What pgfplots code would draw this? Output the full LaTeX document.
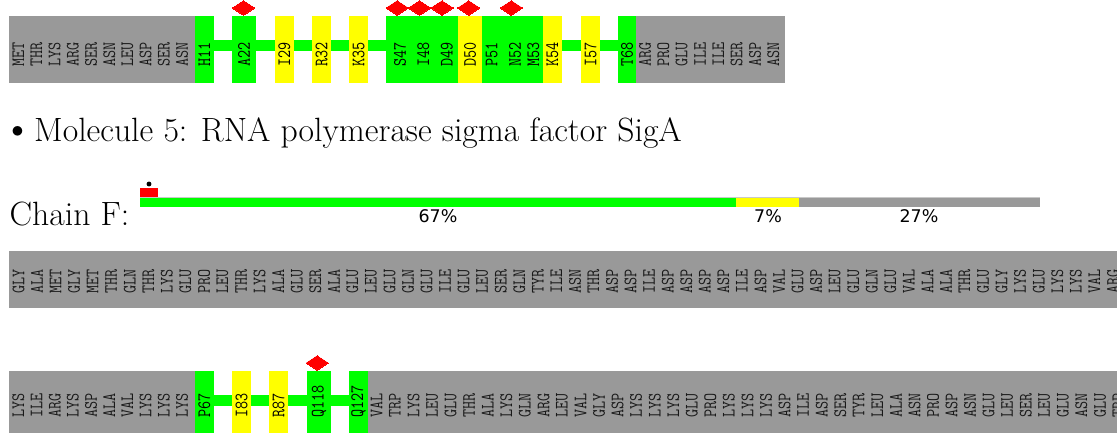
\documentclass[border=0pt]{standalone}
\usepackage{fontspec}
\usepackage{pgfplots}
\usepackage{pgfplotstable}
\pgfplotsset{compat=1.18}
\newfontfamily\dejavu{DejaVu Sans}
\definecolor{pgreen}{RGB}{0,255,0}
\definecolor{pyellow}{RGB}{255,255,0}
\definecolor{pgray}{RGB}{153,153,153}
\definecolor{pred}{RGB}{255,0,0}
\definecolor{pline}{RGB}{200,200,200}

% residue labels: x (centre), y (start of text, bottom), label
\pgfplotstableread{
x y lab
18.3 67 MET
36.5 67 THR
54.7 67 LYS
72.9 67 ARG
91.1 67 SER
109.3 67 ASN
127.4 67 LEU
145.6 67 ASP
163.8 67 SER
182.0 67 ASN
645.0 67 ARG
663.3 67 PRO
681.7 67 GLU
700.0 67 ILE
718.3 67 ILE
736.7 67 SER
755.0 67 ASP
773.3 67 ASN
}\rowAgray
\pgfplotstableread{
x y lab
204.3 67 H11
244.0 67 A22
284.3 67 I29
321.5 67 R32
358.5 67 K35
400.0 67 S47
423.3 67 I48
446.7 67 D49
470.0 67 D50
491.7 67 P51
515.0 67 N52
533.3 67 M53
552.3 67 K54
590.5 67 I57
627.0 67 T68
}\rowAcol
\pgfplotstableread{
x y lab
18.5 294 GLY
37.05 294 ALA
55.6 294 MET
74.15 294 GLY
92.7 294 MET
111.25 294 THR
129.8 294 GLN
148.35 294 THR
166.9 294 LYS
185.45 294 GLU
204.0 294 PRO
222.55 294 LEU
241.1 294 THR
259.65 294 LYS
278.2 294 ALA
296.75 294 GLU
315.3 294 SER
333.85 294 ALA
352.4 294 GLU
370.95 294 LEU
389.5 294 GLU
408.05 294 GLN
426.6 294 GLU
445.15 294 ILE
463.7 294 GLU
482.25 294 LEU
500.8 294 SER
519.35 294 GLN
537.9 294 TYR
556.45 294 ILE
575.0 294 ASN
593.55 294 THR
612.1 294 ASP
630.65 294 ASP
649.2 294 ILE
667.75 294 ASP
686.3 294 ASP
704.85 294 ASP
723.4 294 ASP
741.95 294 ILE
760.5 294 ASP
779.05 294 VAL
797.6 294 GLU
816.15 294 ASP
834.7 294 LEU
853.25 294 GLU
871.8 294 GLN
890.35 294 GLU
908.9 294 VAL
927.45 294 ALA
946.0 294 ALA
964.55 294 THR
983.1 294 GLU
1001.65 294 GLY
1020.2 294 LYS
1038.75 294 GLU
1057.3 294 LYS
1075.85 294 LYS
1094.4 294 VAL
1112.95 294 ARG
}\rowC
\pgfplotstableread{
x y lab
18.3 418 LYS
36.5 418 ILE
54.7 418 ARG
72.9 418 LYS
91.1 418 ASP
109.3 418 ALA
127.4 418 VAL
145.6 418 LYS
163.8 418 LYS
182.0 418 LYS
376.5 418 VAL
395.05 418 TRP
413.6 418 LYS
432.15 418 LEU
450.7 418 GLU
469.25 418 THR
487.8 418 ALA
506.35 418 LYS
524.9 418 GLN
543.45 418 ARG
562.0 418 LEU
580.55 418 VAL
599.1 418 GLY
617.65 418 ASP
636.2 418 LYS
654.75 418 LYS
673.3 418 LYS
691.85 418 GLU
710.4 418 PRO
728.95 418 LYS
747.5 418 LYS
766.05 418 LYS
784.6 418 ASP
803.15 418 ILE
821.7 418 ASP
840.25 418 SER
858.8 418 TYR
877.35 418 LEU
895.9 418 ALA
914.45 418 ASN
933.0 418 PRO
951.55 418 ASP
970.1 418 ASN
988.65 418 GLU
1007.2 418 LEU
1025.75 418 SER
1044.3 418 LEU
1062.85 418 GLU
1081.4 418 ASN
1099.95 418 GLU
1118.5 418 TRP
}\rowDgray
\pgfplotstableread{
x y lab
204.3 418 P67
241.5 418 I83
278.5 418 R87
319.0 418 Q118
358.5 418 Q127
}\rowDcol

\pgfplotsset{
  reslab/.style={draw=none, mark=none, nodes near coords, point meta=explicit symbolic,
    every node near coord/.append style={rotate=90, anchor=west, inner sep=0pt, xscale=0.83,
      text=#1, font=\ttfamily\addfontfeatures{FakeBold=0.8}\fontsize{19}{19}\selectfont}},
  blk/.style={fill=#1, draw=none},
  diam/.style={only marks, mark=diamond*, mark size=7.3bp,
    mark options={xscale=2.04, fill=pred, draw=pred, line width=0pt}},
}

\begin{document}
\begin{tikzpicture}
\useasboundingbox (0,0) rectangle (1117bp,433bp);
\begin{axis}[at={(0,0)}, anchor=south west, scale only axis,
  width=1117bp, height=433bp, xmin=0, xmax=1117, ymin=0, ymax=433,
  y dir=reverse, hide axis, clip=false]

% ---- row 1 (chain of previous molecule) ----
\addplot[blk=pgray] coordinates {(9,16) (195,16) (195,83) (9,83)} --cycle;
\addplot[blk=pgreen] coordinates {(195,40) (636,40) (636,51) (195,51)} --cycle;
\addplot[blk=pgreen] coordinates {(195,16) (213.7,16) (213.7,83) (195,83)} --cycle;
\addplot[blk=pgreen] coordinates {(232,16) (255.7,16) (255.7,83) (232,83)} --cycle;
\addplot[blk=pyellow] coordinates {(275,16) (293.7,16) (293.7,83) (275,83)} --cycle;
\addplot[blk=pyellow] coordinates {(312,16) (331,16) (331,83) (312,83)} --cycle;
\addplot[blk=pyellow] coordinates {(349,16) (367.7,16) (367.7,83) (349,83)} --cycle;
\addplot[blk=pgreen] coordinates {(386,16) (458,16) (458,83) (386,83)} --cycle;
\addplot[blk=pyellow] coordinates {(458,16) (481.7,16) (481.7,83) (458,83)} --cycle;
\addplot[blk=pgreen] coordinates {(481.7,16) (543,16) (543,83) (481.7,83)} --cycle;
\addplot[blk=pyellow] coordinates {(543,16) (561.7,16) (561.7,83) (543,83)} --cycle;
\addplot[blk=pyellow] coordinates {(581,16) (600,16) (600,83) (581,83)} --cycle;
\addplot[blk=pgreen] coordinates {(618,16) (636,16) (636,83) (618,83)} --cycle;
\addplot[blk=pgray] coordinates {(636,16) (785,16) (785,83) (636,83)} --cycle;
\addplot[reslab=black!90] table[x=x, y=y, meta=lab] {\rowAgray};
\addplot[reslab=black] table[x=x, y=y, meta=lab] {\rowAcol};
\addplot[diam] coordinates {(243.5,8) (397.2,8) (419.5,8) (442,8) (468.7,8) (511.3,8)};

% ---- molecule heading ----
\node[inner sep=0pt, font=\fontsize{33.8}{38}\selectfont] at (axis cs:17.5,132) {$\bullet$};
\node[anchor=base west, inner sep=0pt, font=\fontsize{33.8}{38}\selectfont] at (axis cs:34,141)
  {Molecule 5: RNA polymerase sigma factor SigA};

% ---- chain F summary bar ----
\node[anchor=base west, inner sep=0pt, font=\fontsize{33.8}{38}\selectfont] at (axis cs:9.5,225) {Chain F:};
\addplot[blk=pred] coordinates {(140,188.3) (157.7,188.3) (157.7,197.5) (140,197.5)} --cycle;
\addplot[blk=pline] coordinates {(140,197) (1040,197) (1040,198.3) (140,198.3)} --cycle;
\addplot[blk=pgreen] coordinates {(140,198.3) (736,198.3) (736,207) (140,207)} --cycle;
\addplot[blk=pyellow] coordinates {(736,198.3) (799,198.3) (799,207) (736,207)} --cycle;
\addplot[blk=pgray] coordinates {(799,198.3) (1040,198.3) (1040,207) (799,207)} --cycle;
\addplot[only marks, mark=*, mark size=2.2bp, mark options={fill=black, draw=black}] coordinates {(149,184)};
\node[font=\dejavu\fontsize{17.5}{17.5}\selectfont, inner sep=0pt] at (axis cs:438,216) {67\%};
\node[font=\dejavu\fontsize{17.5}{17.5}\selectfont, inner sep=0pt] at (axis cs:768,216) {7\%};
\node[font=\dejavu\fontsize{17.5}{17.5}\selectfont, inner sep=0pt] at (axis cs:919,216) {27\%};

% ---- row 3 ----
\addplot[blk=pgray] coordinates {(9,251) (1130,251) (1130,308) (9,308)} --cycle;
\addplot[reslab=black!90] table[x=x, y=y, meta=lab] {\rowC};

% ---- row 4 ----
\addplot[blk=pgray] coordinates {(9,371) (195,371) (195,445) (9,445)} --cycle;
\addplot[blk=pgreen] coordinates {(195,395) (368,395) (368,406) (195,406)} --cycle;
\addplot[blk=pgreen] coordinates {(195,371) (213.7,371) (213.7,445) (195,445)} --cycle;
\addplot[blk=pyellow] coordinates {(232,371) (251,371) (251,445) (232,445)} --cycle;
\addplot[blk=pyellow] coordinates {(269,371) (288,371) (288,445) (269,445)} --cycle;
\addplot[blk=pgreen] coordinates {(307,371) (331,371) (331,445) (307,445)} --cycle;
\addplot[blk=pgreen] coordinates {(349,371) (368,371) (368,445) (349,445)} --cycle;
\addplot[blk=pgray] coordinates {(368,371) (1130,371) (1130,445) (368,445)} --cycle;
\addplot[reslab=black!90] table[x=x, y=y, meta=lab] {\rowDgray};
\addplot[reslab=black] table[x=x, y=y, meta=lab] {\rowDcol};
\addplot[diam] coordinates {(317.2,363)};
\end{axis}
\end{tikzpicture}
\end{document}
